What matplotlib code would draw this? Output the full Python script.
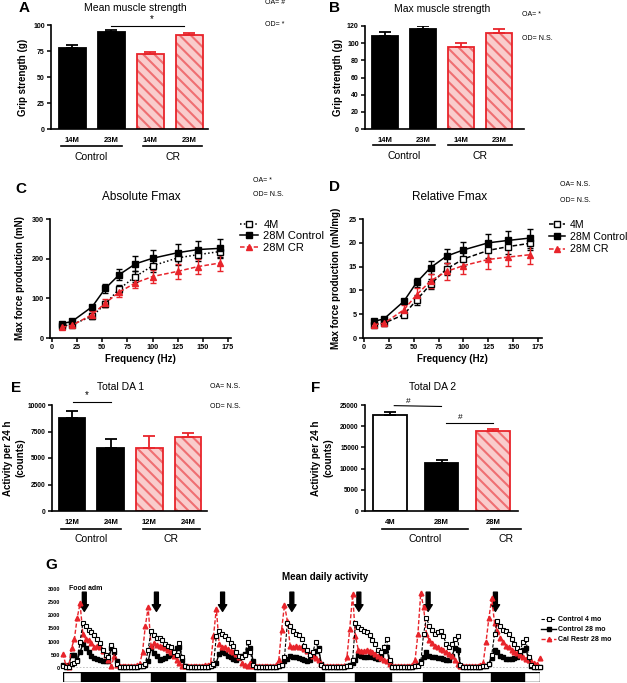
import numpy as np
import matplotlib
matplotlib.use("Agg")
import matplotlib.pyplot as plt
from matplotlib.lines import Line2D

plt.rcParams['font.family'] = ['Liberation Sans', 'DejaVu Sans']
plt.rcParams['hatch.linewidth'] = 1.5

W, H = 627, 683
RED = '#e8242b'
PINK = '#f9cccc'
STRIPE = '#ef6f72'

# ---------------- data ----------------
# A / B grip strength
ab_ticks = ['14M', '23M', '14M', '23M']
ab_kind = ['ctrl', 'ctrl', 'cr', 'cr']
a_mean = [78, 93, 72, 90]
a_sem = [3, 2, 2, 2]
b_mean = [108, 116, 96, 112]
b_sem = [5, 4, 4, 4]

# C / D force-frequency
freq = [10, 20, 40, 53, 67, 83, 100, 125, 145, 167]
c_4m = [30, 34, 55, 86, 124, 155, 182, 202, 210, 218]
c_4m_err = [5, 5, 8, 8, 10, 14, 15, 17, 15, 13]
c_28m = [36, 42, 79, 125, 160, 187, 201, 215, 223, 226]
c_28m_err = [5, 5, 5, 12, 15, 19, 20, 22, 21, 24]
c_cr = [27, 32, 59, 88, 116, 139, 155, 168, 180, 189]
c_cr_err = [5, 5, 9, 10, 12, 13, 17, 19, 19, 21]

d_4m = [2.8, 3.1, 4.9, 8.0, 11.3, 14.5, 16.6, 18.4, 19.2, 19.9]
d_4m_err = [0.5, 0.3, 0.5, 1.0, 1.0, 1.3, 1.5, 1.5, 1.5, 1.5]
d_28m = [3.5, 4.0, 7.7, 11.7, 14.8, 17.2, 18.5, 20.0, 20.5, 21.0]
d_28m_err = [0.3, 0.3, 0.4, 1.0, 1.3, 1.5, 1.6, 1.8, 1.9, 2.0]
d_cr = [2.8, 3.1, 5.9, 9.1, 12.0, 14.0, 15.2, 16.5, 17.0, 17.5]
d_cr_err = [0.5, 0.5, 1.0, 1.3, 1.5, 1.8, 1.8, 1.9, 1.9, 2.0]

# E / F total daily activity
e_ticks = ['12M', '24M', '12M', '24M']
e_kind = ['ctrl', 'ctrl', 'cr', 'cr']
e_mean = [8750, 5950, 5950, 6950]
e_sem = [650, 800, 1150, 450]
f_ticks = ['4M', '28M', '28M']
f_kind = ['young', 'ctrl', 'cr']
f_mean = [22700, 11300, 18900]
f_sem = [600, 700, 500]

# G mean daily activity, hourly bins over 7 days
g_4mo = ([80, 20, 50, 150, 200, 250, 1000, 1700, 1600, 1450, 1380, 1250, 1100, 950, 700, 500, 400, 880, 700, 150, 40, 30, 30, 30]
         + [40, 30, 40, 60, 80, 150, 700, 1400, 1250, 1150, 1150, 1050, 900, 850, 780, 600, 500, 950, 400, 60, 40, 30, 40, 40]
         + [40, 30, 40, 50, 60, 150, 1200, 1420, 1300, 1200, 1100, 950, 850, 600, 450, 420, 500, 970, 600, 100, 40, 30, 40, 40]
         + [40, 30, 40, 50, 60, 100, 400, 1700, 1600, 1400, 1300, 1250, 1120, 850, 700, 500, 600, 1000, 700, 100, 40, 30, 40, 40]
         + [40, 30, 40, 50, 60, 80, 300, 1700, 1550, 1480, 1420, 1380, 1250, 1050, 900, 700, 600, 800, 1100, 300, 40, 30, 40, 40]
         + [40, 30, 40, 50, 60, 80, 200, 1300, 1900, 1600, 1450, 1300, 1350, 1400, 1200, 900, 800, 900, 1100, 1200, 100, 30, 40, 40]
         + [40, 30, 40, 50, 60, 80, 150, 500, 1300, 1800, 1600, 1450, 1400, 1300, 1100, 900, 750, 650, 1000, 1100, 400, 100, 50, 40, 30])
g_28mo = ([130, 20, 100, 500, 480, 300, 600, 900, 750, 620, 450, 380, 330, 320, 280, 250, 280, 760, 600, 250, 40, 30, 30, 30]
          + [40, 30, 40, 60, 80, 120, 250, 750, 570, 450, 320, 350, 380, 440, 500, 620, 750, 800, 320, 60, 40, 30, 40, 40]
          + [40, 30, 40, 50, 60, 100, 200, 550, 620, 560, 450, 400, 350, 320, 380, 440, 520, 700, 750, 250, 40, 30, 40, 40]
          + [40, 30, 40, 50, 60, 120, 250, 350, 440, 430, 420, 380, 330, 300, 270, 300, 500, 650, 760, 150, 40, 30, 40, 40]
          + [40, 30, 40, 50, 60, 100, 200, 300, 500, 450, 420, 430, 440, 400, 380, 350, 500, 630, 800, 200, 40, 30, 40, 40]
          + [40, 30, 40, 50, 60, 100, 250, 400, 600, 450, 400, 420, 380, 370, 350, 320, 300, 450, 760, 700, 60, 30, 40, 40]
          + [40, 30, 40, 50, 60, 80, 150, 380, 700, 600, 450, 400, 350, 330, 360, 380, 400, 500, 700, 760, 300, 80, 50, 40, 30])
g_cr = ([550, 100, 20, 760, 1100, 1900, 2450, 1300, 1100, 1080, 950, 800, 850, 800, 650, 500, 300, 60, 440, 100, 90, 80, 70, 80]
        + [90, 80, 100, 150, 600, 1600, 2300, 850, 950, 880, 850, 780, 760, 680, 600, 440, 320, 200, 90, 60, 80, 70, 80, 90]
        + [80, 90, 100, 100, 200, 1200, 2250, 900, 780, 780, 720, 650, 600, 520, 400, 200, 100, 90, 180, 80, 70, 80, 70, 90]
        + [80, 90, 80, 100, 300, 1450, 2400, 1800, 850, 800, 820, 800, 780, 720, 650, 550, 450, 380, 300, 150, 80, 70, 80, 80]
        + [80, 70, 80, 90, 400, 1500, 2800, 1200, 700, 650, 650, 680, 650, 620, 550, 450, 380, 300, 250, 150, 80, 70, 80, 90]
        + [80, 70, 80, 100, 300, 1300, 2850, 2300, 1300, 1050, 950, 850, 780, 720, 680, 620, 550, 450, 320, 150, 80, 70, 80, 80]
        + [80, 70, 80, 100, 200, 1000, 1900, 2650, 1700, 1400, 1150, 1000, 850, 780, 700, 620, 570, 480, 420, 350, 300, 250, 200, 150, 380])
hours = np.arange(len(g_cr))
dark_start = [6.4, 31.1, 54.4, 79.2, 102.8, 126.9, 150.9]
dark_end = [19.8, 42.8, 67.5, 91.9, 115.5, 139.6, 162.5]
food_times = [7.5, 32.9, 56.2, 80.6, 104.2, 128.6, 152.3]

fig = plt.figure(figsize=(W / 100, H / 100), dpi=100)


def px_axes(x0, y0, x1, y1):
    return fig.add_axes([x0 / W, 1 - y1 / H, (x1 - x0) / W, (y1 - y0) / H])


def ftext(x, y, s, **kw):
    kw.setdefault('ha', 'center')
    kw.setdefault('va', 'center')
    fig.text(x / W, 1 - y / H, s, **kw)


def style(ax, tick_fs=5):
    for s in ['top', 'right']:
        ax.spines[s].set_visible(False)
    for s in ['left', 'bottom']:
        ax.spines[s].set_linewidth(1.2)
    ax.tick_params(direction='out', length=3, width=1.1, labelsize=tick_fs, pad=1.5)
    for lab in ax.get_yticklabels() + ax.get_xticklabels():
        lab.set_fontweight('bold')


def draw_bars(ax, vals, errs, kinds, width):
    pos = np.arange(len(vals))
    for p, v, e, k in zip(pos, vals, errs, kinds):
        if k == 'cr':
            ax.bar(p, v, width, color=PINK, edgecolor=STRIPE, hatch='\\\\\\', lw=0)
            ax.bar(p, v, width, fill=False, edgecolor=RED, lw=1.3)
            col = RED
        else:
            ax.bar(p, v, width, color='black' if k == 'ctrl' else 'white',
                   edgecolor='black', lw=1.3)
            col = 'black'
        ax.errorbar(p, v, yerr=[[0], [e]], fmt='none', ecolor=col,
                    elinewidth=1.3, capsize=4, capthick=1.3)


def groups(ax, spans, labels, y_line, y_lab, fs=7.5):
    tr = ax.get_xaxis_transform()
    for (x0, x1), lab in zip(spans, labels):
        ax.plot([x0, x1], [y_line, y_line], transform=tr, color='black',
                lw=1.2, clip_on=False)
        ax.text((x0 + x1) / 2, y_lab, lab, transform=tr, ha='center',
                va='center', fontsize=fs)


# ---------------- A ----------------
axA = px_axes(51, 25, 208, 129)
draw_bars(axA, a_mean, a_sem, ab_kind, 0.69)
axA.set_xlim(-0.54, 3.48)
axA.set_ylim(0, 100)
axA.set_yticks([0, 25, 50, 75, 100])
axA.set_xticks(range(4))
axA.set_xticklabels(ab_ticks)
style(axA)
axA.tick_params(axis='x', length=0, pad=6, labelsize=5.5)
groups(axA, [(-0.28, 1.28), (1.82, 3.33)], ['Control', 'CR'], -0.163, -0.27)
axA.plot([1.0, 2.87], [99, 99], color='black', lw=0.8, clip_on=False)
axA.text(2.05, 101, '*', ha='center', va='bottom', fontsize=7)
ftext(135, 8, 'Mean muscle strength', fontsize=7.5)
ftext(24, 8, 'A', fontsize=11, fontweight='bold')
ftext(23, 77, 'Grip strength (g)', rotation=90, fontsize=7, fontweight='bold')
ftext(265, 2, 'OA= #', ha='left', fontsize=5)
ftext(265, 24, 'OD= *', ha='left', fontsize=5)

# ---------------- B ----------------
axB = px_axes(365, 26, 524, 129)
draw_bars(axB, b_mean, b_sem, ab_kind, 0.69)
axB.set_xlim(-0.53, 3.65)
axB.set_ylim(0, 120)
axB.set_yticks(range(0, 121, 20))
axB.set_xticks(range(4))
axB.set_xticklabels(ab_ticks)
style(axB)
axB.tick_params(axis='x', length=0, pad=6, labelsize=5.5)
groups(axB, [(-0.32, 1.32), (1.66, 3.34)], ['Control', 'CR'], -0.16, -0.265)
ftext(442, 9, 'Max muscle strength', fontsize=7.5)
ftext(335, 8, 'B', fontsize=11, fontweight='bold')
ftext(338, 77, 'Grip strength (g)', rotation=90, fontsize=7, fontweight='bold')
ftext(522, 15, 'OA= *', ha='left', fontsize=5)
ftext(522, 38, 'OD= N.S.', ha='left', fontsize=5)


# ---------------- C / D ----------------
def fmax_panel(ax, m4, e4, m28, e28, mcr, ecr, ls4):
    ax.errorbar(freq, m4, yerr=e4, fmt='none', ecolor='black', elinewidth=1,
                capsize=2.4, capthick=1, zorder=2)
    ax.errorbar(freq, m28, yerr=e28, fmt='none', ecolor='black', elinewidth=1,
                capsize=2.4, capthick=1, zorder=2)
    ax.errorbar(freq, mcr, yerr=ecr, fmt='none', ecolor=RED, elinewidth=1,
                capsize=2.4, capthick=1, zorder=2)
    h4, = ax.plot(freq, m4, ls=ls4, color='black', lw=1.1, marker='s', ms=4,
                  mfc='white', mec='black', mew=1, zorder=3)
    h28, = ax.plot(freq, m28, ls='-', color='black', lw=1.1, marker='s', ms=4,
                   mfc='black', mec='black', zorder=4)
    hcr, = ax.plot(freq, mcr, ls=(0, (3, 1.5)), color=RED, lw=1.1, marker='^',
                   ms=4, mfc=RED, mec=RED, zorder=5)
    return [h4, h28, hcr]


axC = px_axes(50, 219, 231, 338)
hC = fmax_panel(axC, c_4m, c_4m_err, c_28m, c_28m_err, c_cr, c_cr_err, (0, (1, 1.5)))
axC.set_xlim(-2, 178)
axC.set_ylim(0, 300)
axC.set_xticks(range(0, 176, 25))
axC.set_yticks([0, 100, 200, 300])
style(axC, 5.2)
axC.set_xlabel('Frequency (Hz)', fontsize=7, fontweight='bold', labelpad=2)
axC.legend(hC, ['4M', '28M Control', '28M CR'], loc='upper left',
           bbox_to_anchor=(240 / W, 1 - 220 / H), bbox_transform=fig.transFigure,
           frameon=False, fontsize=8, handlelength=1.6, handletextpad=0.5,
           labelspacing=0.12, borderpad=0, borderaxespad=0)
ftext(141, 197, 'Absolute Fmax', fontsize=8.5)
ftext(21, 189, 'C', fontsize=11, fontweight='bold')
ftext(20, 278, 'Max force production (mN)', rotation=90, fontsize=7, fontweight='bold')
ftext(253, 180, 'OA= *', ha='left', fontsize=5)
ftext(253, 195, 'OD= N.S.', ha='left', fontsize=5)

axD = px_axes(363, 219, 542, 338)
hD = fmax_panel(axD, d_4m, d_4m_err, d_28m, d_28m_err, d_cr, d_cr_err, (0, (3, 1.5)))
axD.set_xlim(-1, 179)
axD.set_ylim(0, 25)
axD.set_xticks(range(0, 176, 25))
axD.set_yticks(range(0, 26, 5))
style(axD, 5.2)
axD.set_xlabel('Frequency (Hz)', fontsize=7, fontweight='bold', labelpad=2)
axD.legend(hD, ['4M', '28M Control', '28M CR'], loc='upper left',
           bbox_to_anchor=(549 / W, 1 - 220 / H), bbox_transform=fig.transFigure,
           frameon=False, fontsize=7.6, handlelength=1.5, handletextpad=0.45,
           labelspacing=0.2, borderpad=0, borderaxespad=0)
ftext(450, 197, 'Relative Fmax', fontsize=8.5)
ftext(335, 187, 'D', fontsize=11, fontweight='bold')
ftext(336, 278, 'Max force production (mN/mg)', rotation=90, fontsize=7, fontweight='bold')
ftext(560, 184, 'OA= N.S.', ha='left', fontsize=5)
ftext(560, 200, 'OD= N.S.', ha='left', fontsize=5)

# ---------------- E ----------------
axE = px_axes(52, 405, 207, 511)
draw_bars(axE, e_mean, e_sem, e_kind, 0.69)
axE.set_xlim(-0.52, 3.49)
axE.set_ylim(0, 10000)
axE.set_yticks([0, 2500, 5000, 7500, 10000])
axE.set_xticks(range(4))
axE.set_xticklabels(e_ticks)
style(axE, 4.8)
axE.tick_params(axis='x', length=0, pad=6, labelsize=5.5)
groups(axE, [(-0.28, 1.27), (1.83, 3.3)], ['Control', 'CR'], -0.17, -0.265)
axE.plot([0.03, 1.0], [10280, 10280], color='black', lw=0.8, clip_on=False)
axE.text(0.37, 10500, '*', ha='center', va='bottom', fontsize=7)
ftext(121, 387, 'Total DA 1', fontsize=7.5)
ftext(16, 388, 'E', fontsize=11, fontweight='bold')
ftext(8, 458, 'Activity per 24 h', rotation=90, fontsize=7, fontweight='bold')
ftext(20, 458, '(counts)', rotation=90, fontsize=7, fontweight='bold')
ftext(210, 387, 'OA= N.S.', ha='left', fontsize=5)
ftext(210, 407, 'OD= N.S.', ha='left', fontsize=5)

# ---------------- F ----------------
axF = px_axes(365, 405, 518, 511)
draw_bars(axF, f_mean, f_sem, f_kind, 0.66)
axF.set_xlim(-0.49, 2.49)
axF.set_ylim(0, 25000)
axF.set_yticks(range(0, 25001, 5000))
axF.set_xticks(range(3))
axF.set_xticklabels(f_ticks)
style(axF, 4.8)
axF.tick_params(axis='x', length=0, pad=6, labelsize=5.5)
groups(axF, [(-0.15, 1.51), (1.96, 2.54)], ['Control', 'CR'], -0.17, -0.265)
axF.plot([0.08, 1.0], [24850, 24650], color='black', lw=0.8, clip_on=False)
axF.text(0.35, 25100, '#', ha='center', va='bottom', fontsize=6)
axF.plot([1.09, 2.0], [20750, 20750], color='black', lw=0.8, clip_on=False)
axF.text(1.36, 21300, '#', ha='center', va='bottom', fontsize=6)
ftext(433, 387, 'Total DA 2', fontsize=7.5)
ftext(316, 388, 'F', fontsize=11, fontweight='bold')
ftext(316, 458, 'Activity per 24 h', rotation=90, fontsize=7, fontweight='bold')
ftext(328, 458, '(counts)', rotation=90, fontsize=7, fontweight='bold')

# ---------------- G ----------------
axG = px_axes(63, 589, 540, 668)
axG.plot(hours, g_28mo, ls='-', color='black', lw=1, marker='s', ms=3.3,
         mfc='black', mec='black', zorder=3, clip_on=False)
axG.plot(hours, g_cr, ls=(0, (3, 1.5)), color=RED, lw=1, marker='^', ms=3.4,
         mfc=RED, mec=RED, zorder=4, clip_on=False)
axG.plot(hours, g_4mo, ls=(0, (3, 1.5)), color='black', lw=0.8, marker='s', ms=3.4,
         mfc='white', mec='black', mew=0.8, zorder=5, clip_on=False)
axG.axhline(0, color='#bbbbbb', lw=1.2, ls=(0, (1, 1)), zorder=1)
axG.set_xlim(0, 168)
axG.set_ylim(0, 3000)
axG.set_yticks(range(0, 3001, 500))
axG.set_xticks([])
for s in ['top', 'right', 'bottom', 'left']:
    axG.spines[s].set_visible(False)
axG.tick_params(axis='y', length=0, labelsize=4, pad=2)
for lab in axG.get_yticklabels():
    lab.set_fontweight('bold')
for t in food_times:
    axG.annotate('', xy=(t, 2150), xytext=(t, 2880),
                 arrowprops=dict(arrowstyle='simple,head_width=0.75,head_length=0.6,tail_width=0.35',
                                 color='black', shrinkA=0, shrinkB=0, mutation_scale=8))
axG.text(2.2, 3020, 'Food adm', ha='left', va='center', fontsize=5, fontweight='bold')
gh = [Line2D([], [], ls=(0, (3, 1.5)), color='black', lw=0.8, marker='s', ms=3.2,
             mfc='white', mec='black', mew=0.8),
      Line2D([], [], ls='-', color='black', lw=1, marker='s', ms=3, mfc='black'),
      Line2D([], [], ls=(0, (3, 1.5)), color=RED, lw=1, marker='^', ms=3.2, mfc=RED, mec=RED)]
leg = axG.legend(gh, ['Control 4 mo', 'Control 28 mo', 'Cal Restr 28 mo'], loc='upper left',
                 bbox_to_anchor=(541 / W, 1 - 616 / H), bbox_transform=fig.transFigure,
                 frameon=False, prop={'size': 5, 'weight': 'bold'}, handlelength=2.2,
                 handletextpad=0.2, labelspacing=0.45, borderpad=0, borderaxespad=0)
ftext(325, 577, 'Mean daily activity', fontsize=7, fontweight='bold')
ftext(51, 565, 'G', fontsize=11, fontweight='bold')

# light / dark bar
axL = px_axes(63, 672, 540, 682)
axL.set_xlim(0, 168)
axL.set_ylim(0, 1)
axL.axis('off')
axL.barh(0.5, 168, height=1, left=0, color='white', edgecolor='black', lw=1)
axL.barh(0.5, np.subtract(dark_end, dark_start), height=1, left=dark_start,
         color='black', edgecolor='black', lw=1)

fig.savefig('out.png', dpi=100)
